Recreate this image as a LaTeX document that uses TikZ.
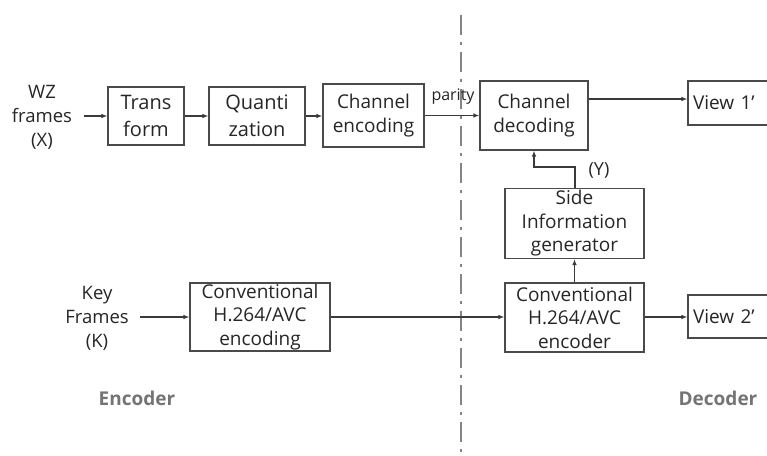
\documentclass[tikz,border=0pt]{standalone}
\usepackage{fontspec}
\setmainfont{Open Sans}
\usetikzlibrary{arrows.meta}
\definecolor{linec}{HTML}{3A3A3A}
\definecolor{boxc}{HTML}{4A4A4A}
\definecolor{labc}{HTML}{747474}
\definecolor{sepc}{HTML}{858585}
\begin{document}
\begin{tikzpicture}[x=1pt,y=-1pt,
  box/.style={draw=boxc,line width=1.1pt,inner sep=0pt,align=center,text=black!85,
    font={\fontsize{19}{24}\selectfont}},
  bigbox/.style={box,font={\fontsize{20}{27}\selectfont}},
  lbl/.style={align=center,inner sep=0pt,text=black!85,font={\fontsize{18.5}{24}\selectfont}},
  sidelbl/.style={inner sep=0pt,text=labc,font={\bfseries\fontsize{19}{22}\selectfont}},
  arr/.style={draw=linec,line width=1.1pt,-{Latex[length=6pt,width=4.5pt]}},
  sep/.style={draw=sepc,line width=2.8pt,dash pattern=on 20pt off 7pt on 3pt off 7pt}]
\useasboundingbox (0,0) rectangle (767,455);
\clip (0,0) rectangle (767,455);
\fill[white] (0,0) rectangle (767,455);
% separator
\draw[sep] (461,15) -- (461,460);
% top row
\node[lbl] (wz) at (42,117) {WZ\\frames\\(X)};
\node[bigbox,minimum width=76pt,minimum height=58pt] (tf) at (146,116) {Trans\\form};
\node[bigbox,minimum width=96pt,minimum height=58pt] (qz) at (257,116) {Quanti\\zation};
\node[box,minimum width=101pt,minimum height=63pt] (ce) at (373.5,115.5) {Channel\\encoding};
\node[box,minimum width=108pt,minimum height=69pt] (cd) at (534,115.5) {Channel\\decoding};
\node[box,minimum width=90pt,minimum height=44pt,text width=80pt,align=left] (v1) at (733,103) {View 1’};
\node[lbl,font={\fontsize{16}{20}\selectfont}] (par) at (453,97) {parity};
\node[lbl,font={\fontsize{18}{22}\selectfont}] (ylab) at (599,170) {(Y)};
% middle
\node[box,minimum width=139pt,minimum height=70pt,font={\fontsize{19}{23.5}\selectfont}] (si) at (574.5,223.5) {Side\\Information\\generator};
% bottom row
\node[lbl] (key) at (97,318) {Key\\Frames\\(K)};
\node[box,minimum width=140pt,minimum height=68pt,font={\fontsize{19}{23.5}\selectfont}] (enc) at (260,317) {Conventional\\H.264/AVC\\encoding};
\node[box,minimum width=139pt,minimum height=69pt,font={\fontsize{19}{23.5}\selectfont}] (dec) at (574.5,317.5) {Conventional\\H.264/AVC\\encoder};
\node[box,minimum width=90pt,minimum height=43pt,text width=80pt,align=left] (v2) at (733,316.5) {View 2’};
% labels
\node[sidelbl] (encl) at (137,398) {Encoder};
\node[sidelbl] (decl) at (718,398) {Decoder};
% connectors
\coordinate (wzend) at (84,116);
\draw[arr] (wzend) -- (tf.west |- wzend);
\draw[arr] (tf.east |- wzend) -- (qz.west |- wzend);
\draw[arr] (qz.east |- wzend) -- (ce.west |- wzend);
\draw[arr] (ce.east) -- (cd.west);
\coordinate (r1) at (0,99);
\draw[arr] (cd.east |- r1) -- (v1.west |- r1);
\coordinate (bend) at (575,167);
\draw[arr] (si.north -| bend) -- (bend) -- (cd.south |- bend) -- (cd.south);
\draw[arr] (dec.north) -- (si.south);
\coordinate (keyend) at (140,317);
\draw[arr] (keyend) -- (enc.west |- keyend);
\draw[arr] (enc.east) -- (dec.west |- enc.east);
\draw[arr] (dec.east |- enc.east) -- (v2.west |- enc.east);
\end{tikzpicture}
\end{document}
